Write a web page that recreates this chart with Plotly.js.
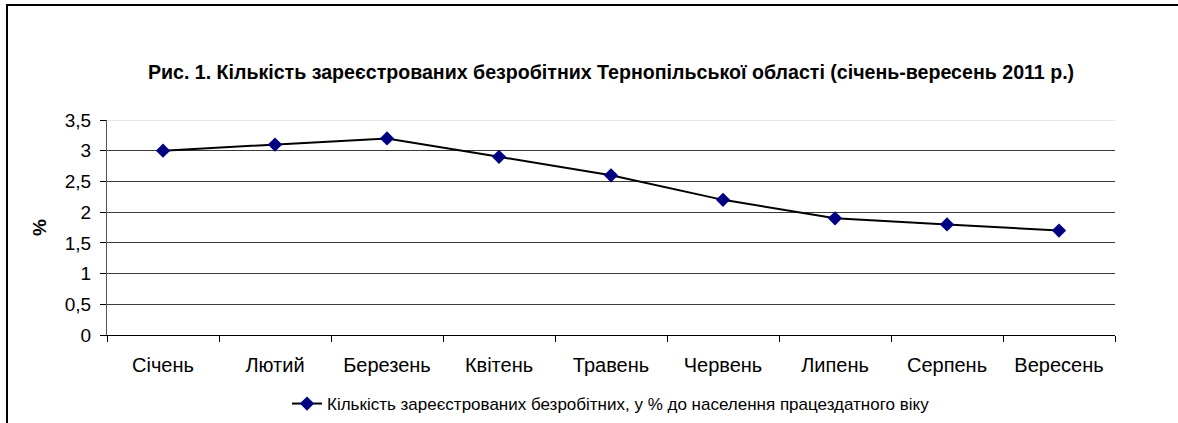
<!DOCTYPE html>
<html>
<head>
<meta charset="utf-8">
<script src="https://cdn.plot.ly/plotly-3.0.1.min.js"></script>
<style>
  html, body { margin: 0; padding: 0; background: #fff; }
  #wrap { position: relative; width: 1178px; height: 423px; overflow: hidden; }
  #chart { width: 1178px; height: 423px; }
  #frame { position: absolute; left: 6px; top: 4px; width: 1300px; height: 600px;
           border: 2px solid #000; box-sizing: border-box; pointer-events: none; }
</style>
</head>
<body>
<div id="wrap">
  <div id="chart"></div>
  <div id="frame"></div>
</div>
<script>
const months = ["Січень", "Лютий", "Березень", "Квітень", "Травень", "Червень", "Липень", "Серпень", "Вересень"];
const values = [3.0, 3.1, 3.2, 2.9, 2.6, 2.2, 1.9, 1.8, 1.7];
const seriesName = "Кількість зареєстрованих безробітних, у % до населення працездатного віку";
const chartTitle = "Рис. 1. Кількість зареєстрованих безробітних Тернопільської області (січень-вересень 2011 р.)";
const yTickVals = [0, 0.5, 1, 1.5, 2, 2.5, 3, 3.5];
const yTickText = ["0", "0,5", "1", "1,5", "2", "2,5", "3", "3,5"];

const trace = {
  x: months,
  y: values,
  type: "scatter",
  mode: "lines+markers",
  name: seriesName,
  line: { color: "#000000", width: 2 },
  marker: { symbol: "diamond", size: 11, color: "#000080", line: { width: 0 } },
  showlegend: true
};

const FONT = "Arial, 'Liberation Sans', sans-serif";

const layout = {
  width: 1178,
  height: 423,
  margin: { l: 107, r: 63, t: 120, b: 88, autoexpand: false },
  paper_bgcolor: "#ffffff",
  plot_bgcolor: "#ffffff",
  font: { family: FONT, color: "#000" },
  title: {
    text: "<b>" + chartTitle + "</b>",
    font: { size: 19.6, family: FONT, color: "#000" },
    x: 0.5, xanchor: "center", xref: "paper",
    y: 1 - 72 / 423, yref: "container", yanchor: "middle"
  },
  xaxis: {
    type: "category",
    range: [-0.5, 8.5],
    showgrid: false,
    showline: true, linecolor: "#000", linewidth: 1,
    ticks: "outside", tickson: "boundaries", ticklen: 6, tickcolor: "#000",
    ticklabelstandoff: 12,
    tickfont: { size: 20, color: "#000" },
    zeroline: false,
    automargin: false,
    fixedrange: true
  },
  yaxis: {
    range: [0, 3.5],
    tickvals: yTickVals,
    ticktext: yTickText,
    showgrid: true, gridcolor: "#3a3a3a", gridwidth: 1,
    showline: true, linecolor: "#555", linewidth: 1,
    ticks: "outside", ticklen: 6, tickcolor: "#000",
    ticklabelstandoff: 5,
    tickfont: { size: 19, color: "#000" },
    zeroline: false,
    automargin: false,
    title: { text: "<b>%</b>", font: { size: 19, color: "#000" }, standoff: 13 },
    fixedrange: true
  },
  shapes: [
    { type: "line", xref: "paper", yref: "y", x0: 0, x1: 1, y0: 3.5, y1: 3.5,
      line: { color: "#cccccc", width: 1 } }
  ],
  legend: {
    orientation: "h",
    x: 0.5, xanchor: "center",
    yref: "container",
    y: 1 - 404 / 423, yanchor: "middle",
    font: { size: 17, color: "#000" },
    bgcolor: "rgba(0,0,0,0)",
    itemwidth: 30
  }
};

Plotly.newPlot("chart", [trace], layout, { displayModeBar: false, staticPlot: true });
</script>
</body>
</html>
